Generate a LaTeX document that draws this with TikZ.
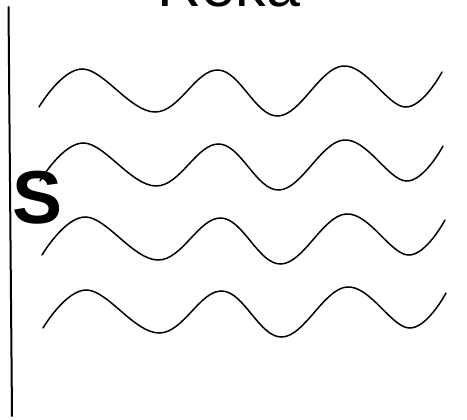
\documentclass[tikz,border=0pt]{standalone}
\usepackage{fontspec}
\setmainfont{Liberation Sans}
\usepackage{tikz}

\begin{document}
\begin{tikzpicture}[x=1pt,y=-1pt,line cap=round,
  titlelabel/.style={font=\fontsize{61}{61}\selectfont,inner sep=0pt,anchor=base},
  sidelabel/.style={font=\fontsize{75}{75}\selectfont\bfseries,inner sep=0pt,anchor=base west},
  wall/.style={line width=2pt,black},
  wave/.style={line width=1.5pt,black,smooth,tension=0.65}]
  \useasboundingbox (0,0) rectangle (467,420);

  % title
  \node[titlelabel] (title) at (229,7) {Reka};

  % left wall
  \coordinate (walltop) at (8.5,7);
  \coordinate (wallbot) at (12,416);
  \draw[wall] (walltop) -- (wallbot);

  % waves
  \foreach \dx/\dy in {0/0,1/74,3/148,4/221}
    \draw[wave,shift={(\dx,\dy)}] plot coordinates {(39,107) (83,69) (155,112)
      (218,70) (278,116) (343,66) (405,107) (442,72)};

  % label
  \node[sidelabel] (s) at (12.5,224) {S};
\end{tikzpicture}
\end{document}
